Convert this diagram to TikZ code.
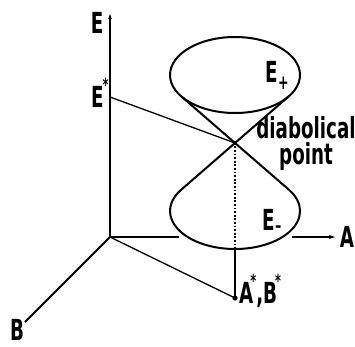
\documentclass[tikz,border=0pt]{standalone}
\usepackage{fontspec}
\setmainfont{DejaVu Sans}[FakeStretch=0.63]
\usetikzlibrary{arrows.meta,calc}
\newcommand{\supstar}{\raisebox{1.0ex}{\fontsize{18}{18}\selectfont\bfseries *}}
\begin{document}
\begin{tikzpicture}[x=1pt,y=1pt,
  axis/.style={line width=1.8pt},
  thinline/.style={line width=1.3pt},
  cone/.style={line width=2pt,line join=round},
  dotline/.style={line width=1.6pt,dash pattern=on 1.8pt off 1.8pt},
  lab/.style={inner sep=0pt,font=\fontsize{29}{30}\selectfont\bfseries}]
\useasboundingbox (0,0) rectangle (355,346);
% coordinates
\coordinate (O) at (110,109);
\coordinate (Etop) at (110,332);
\coordinate (Estar) at (110,249);
\coordinate (P) at (235,203);
\coordinate (U) at (235,271);
\coordinate (UL) at (181.1,249.8);
\coordinate (UR) at (288.9,249.8);
\coordinate (LL) at (181.1,156.2);
\coordinate (Lbot) at (235,97);
\coordinate (AB) at (235,48);
\coordinate (Agap1) at (179,109);
\coordinate (Agap2) at (292,109);
\coordinate (Aend) at (335,109);
\coordinate (Bend) at (25,24);
% axes
\draw[axis,-{Stealth[length=5pt,width=3.5pt]}] (O) -- (Etop);
\draw[axis] (O) -- (Agap1);
\draw[axis,-{Stealth[length=6pt,width=4pt]}] (Agap2) -- (Aend);
\draw[axis] (O) -- (Bend);
% projection lines
\draw[thinline] (Estar) -- (P);
\draw[thinline] (O) -- (AB);
\draw[axis] (AB) -- (Lbot);
\draw[dotline] (Lbot) -- (P);
\fill (AB) circle[radius=2.6];
% cones
\draw[cone] (U) ellipse[x radius=65, y radius=38];
\draw[cone] (UL) -- (P) -- (UR);
\draw[cone] (P) -- (LL) arc[start angle=146.1, end angle=393.9, x radius=65, y radius=38] -- cycle;
\fill (P) circle[radius=2.2];
% labels
\node[lab] (Elab) at (97,323) {E};
\node[lab,anchor=west] (Estarlab) at (91,253) {E\kern-1pt\supstar};
\node[lab,anchor=west] (Eplus) at (265,271) {E\kern0.5pt\raisebox{-0.45ex}{\fontsize{20}{20}\selectfont\bfseries +}};
\node[lab,anchor=west] (Eminus) at (262,125) {E\kern0.5pt\raisebox{-0.15ex}{\fontsize{20}{20}\selectfont\bfseries –}};
\node[lab] (diab) at (306,218) {diabolical};
\node[lab] (point) at (306,190) {point};
\node[lab] (Alab) at (347,109) {A};
\node[lab] (Blab) at (17,16) {B};
\node[lab,anchor=west] (ABlab) at (239,55) {A\kern-3pt\supstar,B\kern-2pt\supstar};
\end{tikzpicture}
\end{document}
